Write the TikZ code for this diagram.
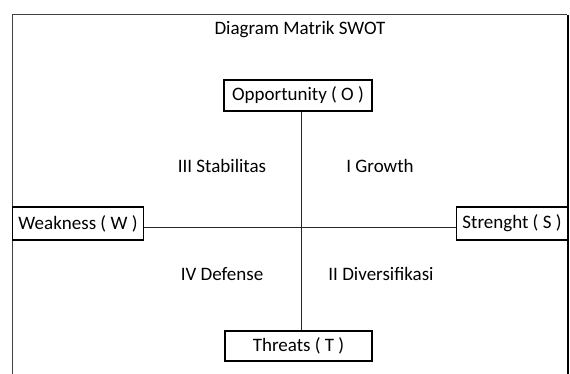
\documentclass[tikz,border=0pt]{standalone}
\usepackage{fontspec}
\setmainfont{Carlito}
\begin{document}
\begin{tikzpicture}[x=1pt,y=-1pt,
  box/.style={draw=black,line width=1.4pt,fill=white,inner sep=0pt,font=\fontsize{19}{22}\selectfont},
  lbl/.style={font=\fontsize{19}{22}\selectfont,inner sep=0pt},
  conn/.style={draw=black!85,line width=1pt}]
\useasboundingbox (0,0) rectangle (570,374);
\fill[white] (0,0) rectangle (570,374);
\draw[black!75,line width=1pt] (12,374) -- (12,15) -- (567,15);
\draw[black,line width=2pt] (567.5,15) -- (567.5,374);
\coordinate (c) at (301,227);
\node[lbl] (title) at (300,30) {Diagram Matrik SWOT};
\node[box,minimum width=148pt,minimum height=31pt] (O) at (298,95.5) {Opportunity ( O )};
\node[box,minimum width=147pt,minimum height=30pt] (T) at (298.5,346) {Threats ( T )};
\node[box,minimum width=131pt,minimum height=33pt] (W) at (78,223.5) {Weakness ( W )};
\node[box,minimum width=111pt,minimum height=33pt] (S) at (512,223.5) {Strenght ( S )};
\draw[conn] (O.south -| c) -- (T.north -| c);
\draw[conn] (W.east |- c) -- (S.west |- c);
\node[lbl] (q3) at (222,166) {III Stabilitas};
\node[lbl] (q1) at (380,166) {I Growth};
\node[lbl] (q4) at (222,274) {IV Defense};
\node[lbl] (q2) at (381,274) {II Diversifikasi};
\end{tikzpicture}
\end{document}
